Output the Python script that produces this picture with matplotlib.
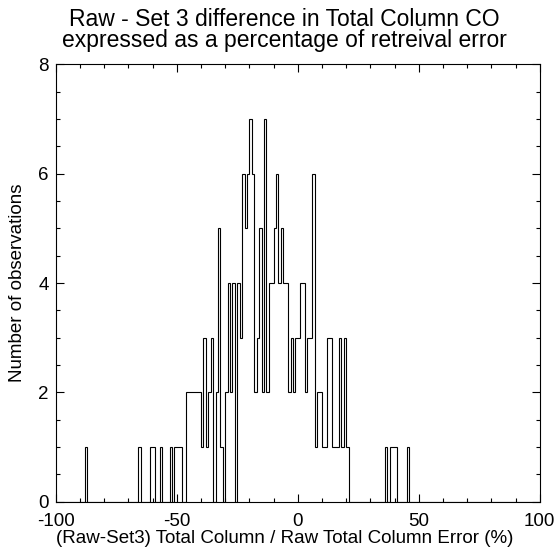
import numpy as np
import matplotlib
matplotlib.use('Agg')
import matplotlib.pyplot as plt
from matplotlib.ticker import MultipleLocator

# histogram: left edge of each 1% bin and its count
bin_left = [-88, -66, -61, -60, -57, -53, -51, -50, -49,
            -46, -45, -44, -43, -42, -41, -40, -39, -38, -37, -36,
            -34, -33, -32, -30, -29, -28, -27, -25, -24, -23, -22,
            -21, -20, -19, -18, -17, -16, -15, -14, -13, -12, -11,
            -10, -9, -8, -7, -6, -5, -4, -3, -2, -1, 0, 1, 2, 3,
            4, 5, 6, 7, 8, 9, 10, 11, 12, 13, 14, 15, 16, 17, 18,
            19, 20, 36, 38, 39, 40, 45]
bin_count = [1, 1, 1, 1, 1, 1, 1, 1, 1,
             2, 2, 2, 2, 2, 2, 1, 3, 1, 2, 3,
             2, 5, 1, 2, 4, 2, 4, 4, 3, 6, 5,
             6, 7, 6, 2, 3, 5, 2, 7, 2, 4, 4,
             5, 6, 4, 5, 4, 4, 2, 3, 2, 3, 3, 4, 4, 2,
             3, 3, 6, 1, 2, 2, 1, 1, 3, 3, 1, 1, 1, 3, 1,
             3, 1, 1, 1, 1, 1, 1]

title1 = 'Raw - Set 3 difference in Total Column CO'
title2 = 'expressed as a percentage of retreival error'
xlabel = '(Raw-Set3) Total Column / Raw Total Column Error (%)'
ylabel = 'Number of observations'

edges = np.arange(-100, 101, 1)
counts = np.zeros(len(edges) - 1)
for b, c in zip(bin_left, bin_count):
    counts[b + 100] = c

plt.rcParams['font.family'] = ['Liberation Sans', 'DejaVu Sans']
plt.rcParams['font.size'] = 13.5
plt.rcParams['axes.unicode_minus'] = False

fig = plt.figure(figsize=(5.58, 5.50), dpi=100)
ax = fig.add_axes([0.100, 0.0878, 0.8674, 0.7953])

ax.stairs(counts, edges, color='black', linewidth=0.8)

ax.set_xlim(-100, 100)
ax.set_ylim(0, 8)
ax.xaxis.set_major_locator(MultipleLocator(50))
ax.xaxis.set_minor_locator(MultipleLocator(10))
ax.yaxis.set_major_locator(MultipleLocator(2))
ax.yaxis.set_minor_locator(MultipleLocator(0.5))
ax.tick_params(which='both', direction='in', top=True, right=True, width=0.8)
ax.tick_params(which='major', length=6)
ax.tick_params(which='minor', length=3)
ax.tick_params(axis='x', pad=8)
ax.tick_params(axis='y', pad=5)
for s in ax.spines.values():
    s.set_linewidth(0.8)

ax.set_xlabel(xlabel)
ax.xaxis.set_label_coords(0.4736, -0.064)
ax.set_ylabel(ylabel, labelpad=9)

# two-line title placed in figure coordinates
fig.text(0.51, 1 - 20 / 550, title1, ha='center', va='center', fontsize=16.5)
fig.text(0.51, 1 - 41 / 550, title2, ha='center', va='center', fontsize=16.5)

fig.savefig('out.png', dpi=100)
